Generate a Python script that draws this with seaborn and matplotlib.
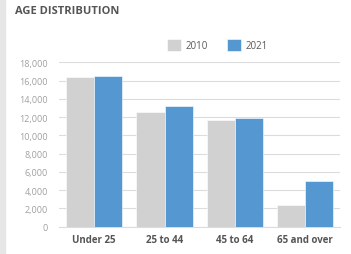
import pandas as pd
import seaborn as sns
import matplotlib.pyplot as plt
from matplotlib.patches import Rectangle

categories = ["Under 25", "25 to 44", "45 to 64", "65 and over"]
years = ["2010", "2021"]
values_2010 = [16430, 12600, 11720, 2380]
values_2021 = [16540, 13250, 11940, 4970]

df = pd.DataFrame({
    "Age": categories * 2,
    "Year": [years[0]] * 4 + [years[1]] * 4,
    "Population": values_2010 + values_2021,
})

sns.set_style("white")
plt.rcParams["font.family"] = ["Open Sans", "DejaVu Sans"]

fig = plt.figure(figsize=(3.51, 2.55), dpi=100)
ax = fig.add_axes([0.168, 0.107, 0.802, 0.645])

# light strip on the left edge
fig.patches.append(Rectangle((0, 0), 5 / 351, 1, transform=fig.transFigure,
                             color="#e6e6e6", zorder=0))

sns.barplot(
    data=df, x="Age", y="Population", hue="Year",
    palette=["#d0d1d0", "#5597d1"], saturation=1, width=0.8, gap=0,
    edgecolor="white", linewidth=0.4, ax=ax, zorder=3,
)

ax.set_ylim(0, 18000)
ax.set_yticks(range(0, 18001, 2000))
ax.set_yticklabels([f"{v:,}" for v in range(0, 18001, 2000)])
ax.grid(axis="y", color="#dcdcdc", linewidth=0.8, zorder=0)
ax.set_axisbelow(True)
for s in ["top", "right", "left"]:
    ax.spines[s].set_visible(False)
ax.spines["bottom"].set_color("#dcdcdc")
ax.tick_params(axis="y", length=0, pad=8, labelsize=6.5, labelcolor="#a0a0a0")
ax.tick_params(axis="x", length=0, pad=5, labelsize=7, labelcolor="#555555")
for lab in ax.get_xticklabels():
    lab.set_fontweight("bold")
ax.set_xlabel("")
ax.set_ylabel("")

ax.legend(
    loc="lower left", bbox_to_anchor=(0.37, 1.045), ncol=2, frameon=False,
    fontsize=7, labelcolor="#5a5a5a", handlelength=1.45, handleheight=1.45,
    handletextpad=0.45, columnspacing=2.0, borderaxespad=0,
)

fig.text(15 / 351, 1 - 12 / 255, "AGE DISTRIBUTION", fontsize=8,
         fontweight="bold", color="#555555", va="center", ha="left")

fig.savefig("out.png", dpi=100)
